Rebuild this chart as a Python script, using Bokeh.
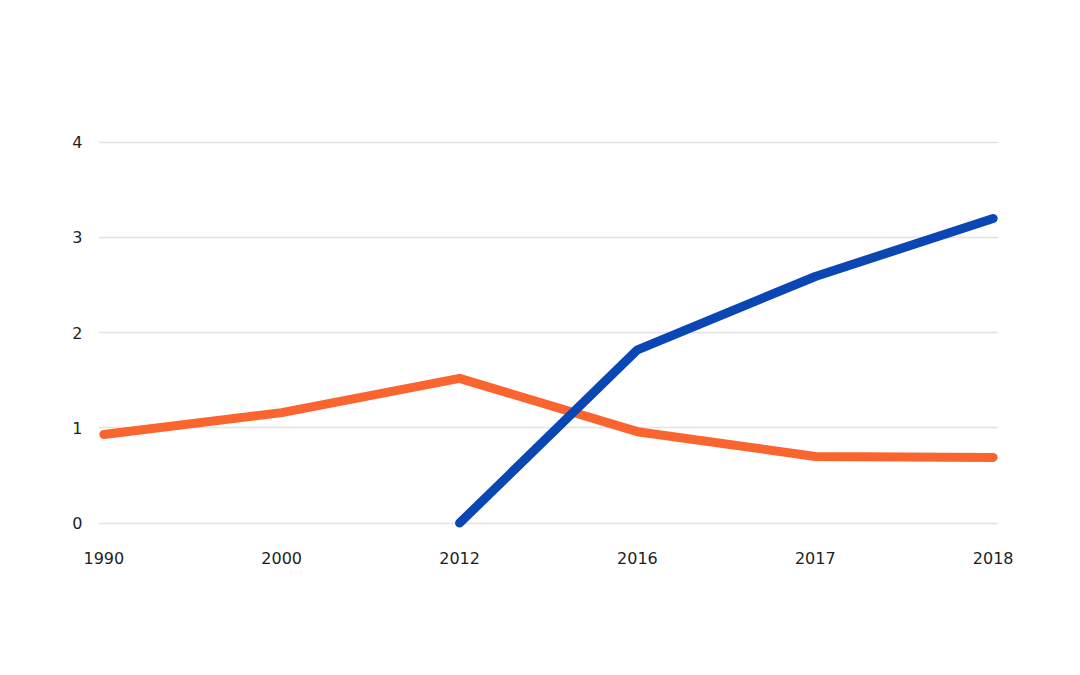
import math
from bokeh.plotting import figure
from bokeh.models import Range1d, FixedTicker, Label
from bokeh.embed import file_html
from bokeh.resources import INLINE

# ---- data ----
years = ["1990", "2000", "2012", "2016", "2017", "2018"]
taxi = [0.93, 1.16, 1.52, 0.96, 0.70, 0.69]
ride_hailing = [float("nan"), float("nan"), 0.0, 1.82, 2.59, 3.20]
y_ticks = [0, 1, 2, 3, 4]

ORANGE = "#F9642F"
BLUE = "#0A47B5"
TXT = "#1E1E1E"

W, H = 1064, 659
BL, BT = 98, 137
FR, FB = 998, 534
BR, BB = W - FR, H - FB
xs = list(range(len(years)))

p = figure(width=W, height=H, output_backend="svg", toolbar_location=None,
           x_range=Range1d(-0.03, len(years) - 1 + 0.03),
           y_range=Range1d(-0.12, 4.05),
           min_border_left=BL, min_border_right=BR,
           min_border_top=BT, min_border_bottom=BB)
p.background_fill_color = "white"
p.border_fill_color = "white"
p.outline_line_color = None

p.xaxis.ticker = FixedTicker(ticks=xs)
p.xaxis.major_label_overrides = {i: y for i, y in enumerate(years)}
p.yaxis.ticker = FixedTicker(ticks=y_ticks)
for ax in (p.xaxis, p.yaxis):
    ax.axis_line_color = None
    ax.major_tick_line_color = None
    ax.minor_tick_line_color = None
    ax.major_label_text_font = "DejaVu Sans"
    ax.major_label_text_font_size = "16px"
    ax.major_label_text_color = TXT
p.xaxis.major_label_standoff = 11
p.yaxis.major_label_standoff = 10

p.xgrid.grid_line_color = None
p.ygrid.grid_line_color = "#E3E3E3"
p.ygrid.grid_line_width = 1.5

p.line(xs, taxi, line_color=ORANGE, line_width=9,
       line_cap="round", line_join="round")
p.line(xs, ride_hailing, line_color=BLUE, line_width=9,
       line_cap="round", line_join="round")

# title parts, screen units relative to the plot frame (x from left, y up from bottom)
for txt, x, col, fs in [("TAXI", 372, ORANGE, "28px"),
                        ("vs.", 450, "#A8A8A8", "26px"),
                        ("RIDE-HAILING", 499, BLUE, "28px")]:
    p.add_layout(Label(x=x - BL, y=FB - 106, x_units="screen", y_units="screen",
                       text=txt, text_color=col, text_font="DejaVu Sans",
                       text_font_style="bold", text_font_size=fs))

p.add_layout(Label(x=49 - BL, y=FB - 453, x_units="screen", y_units="screen",
                   angle=math.pi / 2, text="Annual Rides", text_color=TXT,
                   text_font="DejaVu Sans", text_font_style="bold",
                   text_font_size="18px"))
p.add_layout(Label(x=49 - BL, y=FB - 311, x_units="screen", y_units="screen",
                   angle=math.pi / 2, text="(billions)", text_color=TXT,
                   text_font="DejaVu Sans", text_font_size="19px"))

open("out.html", "w").write(file_html(p, INLINE))
